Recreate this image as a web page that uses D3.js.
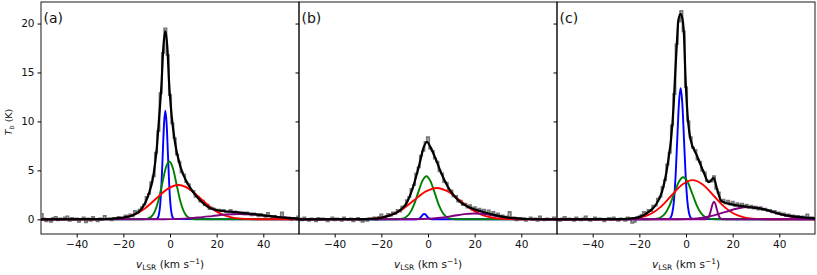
<!DOCTYPE html>
<html>
<head>
<meta charset="utf-8">
<script src="https://cdnjs.cloudflare.com/ajax/libs/d3/7.8.5/d3.min.js"></script>
<style>
  body { margin: 0; background: #fff; }
  text { font-family: "DejaVu Sans", sans-serif; fill: #111; }
</style>
</head>
<body>
<svg width="817" height="275"></svg>
<script>
// spectral channels, 1 km/s
var channels = d3.range(-55, 56);

// observed spectra (K), one value per channel
var obsA = [
  0.55, 0.1, -0.2, 0.05, -0.25, 0.15, 0.25, -0.1, 0.1, 0.0,
  0.2, 0.3, -0.15, 0.15, -0.05, 0.1, -0.25, 0.05, 0.2, -0.3,
  0.1, -0.15, 0.25, 0.0, -0.2, 0.1, -0.05, 0.35, 0.0, 0.1,
  -0.1, 0.15, 0.05, 0.25, 0.1, 0.15, 0.4, 0.25, 0.5, 0.3,
  0.85, 0.6, 1.0, 1.25, 1.5, 2.3, 2.6, 3.8, 4.4, 6.8,
  9.0, 12.9, 17.0, 19.5, 16.8, 12.7, 9.8, 8.3, 6.6, 5.9,
  4.8, 4.6, 3.8, 3.6, 3.0, 2.9, 2.3, 2.3, 1.8, 1.9,
  1.45, 1.5, 1.05, 1.2, 1.1, 0.9, 1.0, 0.85, 0.95, 0.75,
  0.7, 0.95, 0.65, 0.8, 0.75, 0.55, 0.7, 0.5, 0.7, 0.55,
  0.4, 0.6, 0.5, 0.3, 0.55, 0.4, 0.25, 0.65, 0.35, 0.15,
  0.35, 0.2, 0.1, 0.7, 0.25, 0.05, 0.2, -0.05, 0.15, 0.1,
  0.3
];
var obsB = [
  0.1, -0.1, 0.2, 0.0, -0.15, 0.1, 0.05, -0.2, 0.15, -0.05,
  0.1, 0.0, -0.2, 0.05, 0.2, -0.1, 0.1, 0.0, -0.15, 0.2,
  0.05, -0.05, 0.1, -0.2, 0.05, 0.15, -0.1, -0.25, 0.05, -0.15,
  0.1, 0.0, 0.2, -0.05, 0.25, 0.5, 0.1, 0.3, 0.55, 0.35,
  0.7, 0.55, 0.95, 0.8, 1.3, 1.35, 1.95, 2.3, 3.1, 3.5,
  4.7, 5.3, 6.5, 7.0, 7.9, 8.4, 7.2, 7.0, 6.2, 5.9,
  4.9, 4.7, 3.8, 3.75, 3.0, 2.95, 2.35, 2.4, 1.8, 1.9,
  1.45, 1.6, 1.2, 1.45, 1.0, 1.25, 0.85, 1.1, 0.9, 1.0,
  0.6, 0.9, 0.45, 0.75, 0.35, 0.6, 0.25, 0.4, 0.1, 0.3,
  0.75, 0.05, 0.2, -0.1, 0.15, 0.0, 0.1, -0.15, 0.05, 0.2,
  -0.05, 0.1, -0.15, 0.3, 0.0, -0.1, 0.1, -0.05, 0.05, 0.2,
  0.0
];
var obsC = [
  0.05, -0.15, 0.1, 0.25, -0.05, 0.1, 0.0, -0.15, 0.2, 0.05,
  -0.1, 0.1, 0.3, 0.0, -0.15, 0.05, 0.2, -0.05, 0.1, 0.0,
  -0.2, 0.05, 0.15, -0.05, 0.2, 0.0, -0.15, 0.1, 0.05, -0.15,
  0.2, 0.0, -0.35, -0.25, 0.2, 0.3, 0.45, 0.75, 0.5, 0.95,
  0.85, 1.4, 1.4, 2.1, 2.3, 3.3, 4.0, 5.6, 6.8, 9.6,
  12.8, 17.9, 20.2, 21.3, 19.2, 13.5, 10.0, 8.4, 7.3, 7.1,
  6.1, 5.9, 4.95, 4.8, 3.9, 3.95, 3.85, 4.4, 3.1, 2.75,
  1.8, 2.0, 1.6, 1.9, 1.5, 1.8, 1.35, 1.65, 1.3, 1.6,
  1.25, 1.5, 1.15, 1.4, 1.1, 1.3, 1.0, 1.25, 0.95, 1.1,
  0.85, 0.95, 0.7, 0.85, 0.55, 0.7, 0.45, 0.6, 0.35, 0.5,
  0.3, 0.4, 0.2, 0.35, 0.15, 0.3, 0.1, 0.5, 0.05, 0.2,
  0.1
];

// total fits [v, T]
var fitA = [[-55.5,0],[-30,0.02],[-25,0.06],[-20,0.18],[-15.7,0.45],[-12.1,1.1],[-9.3,2.45],[-7.1,4.5],[-5.7,7.2],[-4.6,10.6],[-3.6,14.0],[-2.9,17.4],[-2.0,19.2],[-1.1,17.4],[-0.4,14.0],[0.7,10.6],[2.1,7.9],[4.3,5.5],[7.9,3.5],[12.1,2.15],[17.1,1.15],[21,0.9],[25,0.8],[30,0.68],[35,0.55],[40,0.4],[45,0.27],[50,0.15],[55.5,0.07]];
var fitB = [[-55.5,0],[-30,0.02],[-25,0.05],[-20.7,0.13],[-16.4,0.4],[-12.1,0.9],[-9.3,1.6],[-6.4,3.3],[-3.6,5.7],[-1.8,7.4],[-0.4,7.9],[1.0,7.4],[2.9,6.4],[5.7,4.7],[9.3,3.0],[13.6,1.8],[17.9,1.2],[23.6,0.75],[29.3,0.4],[33.6,0.2],[38,0.1],[43,0.03],[55.5,0]];
var fitC = [[-55.5,0],[-30,0.02],[-25,0.06],[-20,0.22],[-16,0.75],[-13.1,1.43],[-10.3,2.8],[-8.4,4.8],[-7.3,6.5],[-6.4,8.2],[-5.3,11.6],[-4.6,15.0],[-3.8,18.5],[-3.3,20.3],[-2.3,21.0],[-1.4,20.3],[-0.8,18.5],[-0.3,15.0],[0.4,11.6],[1.9,8.2],[4.7,6.5],[7.6,4.8],[9.7,3.8],[11.9,4.2],[13.4,3.0],[15.2,1.85],[18.3,1.6],[22,1.42],[26.9,1.26],[34,1.0],[41,0.5],[48,0.24],[55.5,0.1]];

// gaussian components [v, T]
var blueA = [[-55.5,0],[-5.85,0.02],[-5.3,0.12],[-4.75,0.49],[-4.2,1.5],[-3.65,3.6],[-3.1,6.73],[-2.55,9.8],[-2.0,11.1],[-1.45,9.8],[-0.9,6.73],[-0.35,3.6],[0.2,1.5],[0.75,0.49],[1.3,0.12],[1.85,0.02],[55.5,0]];
var greenA = [[-55.5,0],[-11.15,0.01],[-9.6,0.07],[-8.05,0.26],[-6.5,0.8],[-4.95,1.92],[-3.4,3.58],[-1.85,5.21],[-0.3,5.9],[1.25,5.21],[2.8,3.58],[4.35,1.92],[5.9,0.8],[7.45,0.26],[9.0,0.07],[10.55,0.01],[55.5,0]];
var redA = [[-55.5,0],[-29.65,0.01],[-24.9,0.04],[-20.15,0.15],[-15.4,0.47],[-10.65,1.14],[-5.9,2.12],[-1.15,3.09],[3.6,3.5],[8.35,3.09],[13.1,2.12],[17.85,1.14],[22.6,0.47],[27.35,0.15],[32.1,0.04],[36.85,0.01],[55.5,0]];
var purpleA = [[-55.5,0],[-12,0],[-6,0.01],[0,0.02],[6,0.07],[12,0.18],[18,0.33],[24,0.49],[30,0.55],[36,0.49],[42,0.33],[48,0.18],[54,0.07],[60,0.02]];

var blueB = [[-55.5,0],[-4.9,0.01],[-4.35,0.02],[-3.8,0.07],[-3.25,0.18],[-2.7,0.33],[-2.15,0.49],[-1.6,0.55],[-1.05,0.49],[-0.5,0.33],[0.05,0.18],[0.6,0.07],[1.15,0.02],[1.7,0.01],[55.5,0]];
var greenB = [[-55.5,0],[-13.3,0.01],[-11.5,0.05],[-9.7,0.19],[-7.9,0.6],[-6.1,1.43],[-4.3,2.67],[-2.5,3.88],[-0.7,4.4],[1.1,3.88],[2.9,2.67],[4.7,1.43],[6.5,0.6],[8.3,0.19],[10.1,0.05],[11.9,0.01],[55.5,0]];
var redB = [[-55.5,0],[-30.5,0.01],[-25.6,0.04],[-20.7,0.14],[-15.8,0.43],[-10.9,1.04],[-6.0,1.94],[-1.1,2.82],[3.8,3.2],[8.7,2.82],[13.6,1.94],[18.5,1.04],[23.4,0.43],[28.3,0.14],[33.2,0.04],[38.1,0.01],[55.5,0]];
var purpleB = [[-55.5,0],[-11.5,0],[-7,0.01],[-2.5,0.03],[2,0.08],[6.5,0.19],[11,0.36],[15.5,0.53],[20,0.6],[24.5,0.53],[29,0.36],[33.5,0.19],[38,0.08],[42.5,0.03],[47,0.01],[51.5,0],[55.5,0]];

var blueC = [[-55.5,0],[-7.38,0.03],[-6.65,0.15],[-5.93,0.59],[-5.2,1.81],[-4.48,4.35],[-3.75,8.13],[-3.03,11.83],[-2.3,13.4],[-1.58,11.83],[-0.85,8.13],[-0.13,4.35],[0.6,1.81],[1.33,0.59],[2.05,0.15],[2.78,0.03],[55.5,0]];
var greenC = [[-55.5,0],[-14.85,0.01],[-12.9,0.05],[-10.95,0.19],[-9.0,0.58],[-7.05,1.4],[-5.1,2.61],[-3.15,3.79],[-1.2,4.3],[0.75,3.79],[2.7,2.61],[4.65,1.4],[6.6,0.58],[8.55,0.19],[10.5,0.05],[12.45,0.01],[55.5,0]];
var redC = [[-55.5,0],[-28.7,0.01],[-24.2,0.04],[-19.7,0.18],[-15.2,0.54],[-10.7,1.3],[-6.2,2.43],[-1.7,3.53],[2.8,4.0],[7.3,3.53],[11.8,2.43],[16.3,1.3],[20.8,0.54],[25.3,0.18],[29.8,0.04],[34.3,0.01],[55.5,0]];
var purpleC1 = [[-55.5,0],[7.98,0],[8.55,0.02],[9.13,0.08],[9.7,0.24],[10.28,0.58],[10.85,1.09],[11.43,1.59],[12.0,1.8],[12.58,1.59],[13.15,1.09],[13.73,0.58],[14.3,0.24],[14.88,0.08],[15.45,0.02],[16.03,0],[55.5,0]];
var purpleC2 = [[-55.5,0],[-8,0],[-3,0.01],[2,0.05],[7,0.17],[12,0.41],[17,0.76],[22,1.1],[27,1.25],[32,1.1],[37,0.76],[42,0.41],[47,0.17],[52,0.05],[57,0.01]];

var xTicks = [-40, -20, 0, 20, 40];
var yTicks = [0, 5, 10, 15, 20];
var panelLabels = ['(a)', '(b)', '(c)'];

var panels = [
  {obs: obsA, fit: fitA, comps: [[blueA, 'blue'], [greenA, 'green'], [redA, 'red'], [purpleA, 'purple']]},
  {obs: obsB, fit: fitB, comps: [[blueB, 'blue'], [greenB, 'green'], [redB, 'red'], [purpleB, 'purple']]},
  {obs: obsC, fit: fitC, comps: [[blueC, 'blue'], [greenC, 'green'], [redC, 'red'], [purpleC1, 'purple'], [purpleC2, 'purple']]}
];

var svg = d3.select('svg');
var marginLeft = 41, marginTop = 2;
var panelW = 258, panelH = 232;

var x = d3.scaleLinear().domain([-55.3, 55.3]).range([0, panelW]);
var y = d3.scaleLinear().domain([-1.5, 22.2]).range([panelH, 0]);

var curve = d3.line()
  .x(function(d) { return x(d[0]); })
  .y(function(d) { return y(d[1]); })
  .curve(d3.curveMonotoneX);

// observed data drawn as a mid-step line
var steps = d3.line()
  .x(function(d, i) { return x(channels[i]); })
  .y(function(d) { return y(d); })
  .curve(d3.curveStep);

panels.forEach(function(p, i) {
  var g = svg.append('g')
    .attr('transform', 'translate(' + (marginLeft + i * panelW) + ',' + marginTop + ')');

  g.append('clipPath').attr('id', 'clip' + i)
    .append('rect').attr('width', panelW).attr('height', panelH);

  var plot = g.append('g').attr('clip-path', 'url(#clip' + i + ')');

  plot.append('path').datum(p.obs)
    .attr('d', steps)
    .attr('fill', 'none')
    .attr('stroke', '#777')
    .attr('stroke-width', 1.8);

  p.comps.forEach(function(c) {
    plot.append('path').datum(c[0])
      .attr('d', curve)
      .attr('fill', 'none')
      .attr('stroke', c[1])
      .attr('stroke-width', 1.9);
  });

  plot.append('path').datum(p.fit)
    .attr('d', curve)
    .attr('fill', 'none')
    .attr('stroke', '#000')
    .attr('stroke-width', 2.2);

  // x axis
  var xa = g.append('g')
    .attr('transform', 'translate(0,' + panelH + ')')
    .call(d3.axisBottom(x).tickValues(xTicks).tickSize(3.5).tickPadding(3));
  xa.select('.domain').remove();
  xa.selectAll('text').attr('font-size', 10.5).style('font-family', '"DejaVu Sans", sans-serif');

  // y axis, labels only on the first panel
  var ya = g.append('g')
    .call(d3.axisLeft(y).tickValues(yTicks).tickSize(3.5).tickPadding(3)
      .tickFormat(i === 0 ? d3.format('d') : ''));
  ya.select('.domain').remove();
  ya.selectAll('text').attr('font-size', 10.5).style('font-family', '"DejaVu Sans", sans-serif');

  g.append('rect')
    .attr('width', panelW).attr('height', panelH)
    .attr('fill', 'none').attr('stroke', '#000').attr('stroke-width', 0.9);

  g.append('text')
    .attr('x', 2.5).attr('y', 21)
    .attr('font-size', 14)
    .text(panelLabels[i]);

  // x label: v_LSR (km s^-1)
  var xl = g.append('text')
    .attr('x', panelW / 2).attr('y', 266)
    .attr('text-anchor', 'middle')
    .attr('font-size', 10.5);
  xl.append('tspan').attr('font-style', 'italic').text('v');
  xl.append('tspan').attr('font-size', 7.5).attr('dy', 2).text('LSR');
  xl.append('tspan').attr('dy', -2).text(' (km s');
  xl.append('tspan').attr('font-size', 7.5).attr('dy', -4).text('−1');
  xl.append('tspan').attr('dy', 4).text(')');
});

// y label: T_b (K)
var yl = svg.append('text')
  .attr('transform', 'translate(11.5,' + (marginTop + panelH / 2 + 4) + ') rotate(-90)')
  .attr('text-anchor', 'middle')
  .attr('font-size', 9.5);
yl.append('tspan').attr('font-style', 'italic').text('T');
yl.append('tspan').attr('font-style', 'italic').attr('font-size', 6.5).attr('dy', 2).text('b');
yl.append('tspan').attr('dy', -2).text(' (K)');
</script>
</body>
</html>
